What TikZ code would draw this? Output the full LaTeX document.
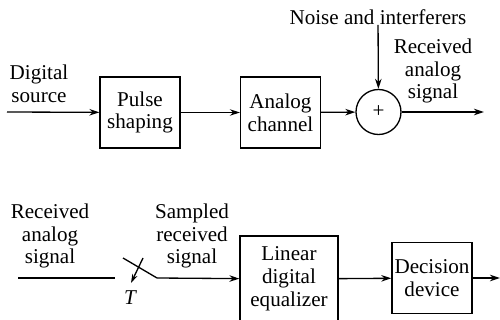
\documentclass[tikz,border=0pt]{standalone}
\usepackage{fontspec}
\setmainfont{Liberation Serif}
\usetikzlibrary{arrows.meta,positioning}

\begin{document}
\begin{tikzpicture}[x=0.02cm,y=-0.02cm,
        blk/.style={draw,line width=0.75pt,minimum width=1.6cm,minimum height=1.42cm,
          align=center,inner sep=1pt,font=\fontsize{12}{13}\selectfont},
        lbl/.style={align=center,inner sep=0pt,font=\fontsize{12}{13}\selectfont},
        sum/.style={draw,circle,line width=0.75pt,minimum size=0.9cm,inner sep=0pt,font=\fontsize{12}{13}\selectfont},
        arr/.style={-{Stealth[length=2mm,width=1.3mm]},line width=0.75pt},
        ln/.style={line width=0.75pt}]
        \useasboundingbox (0,0) rectangle (500,320);
        \clip (0,0) rectangle (500,320);
        % transmitter and channel
        \coordinate (src) at (7,112);
        \node[blk](pulse) at (140,112.5){Pulse\\shaping};
        \node[blk](chan) at (280.5,112.5){Analog\\channel};
        \node[sum](add) at (378.5,112){+};
        \coordinate (rx) at (484,112);
        \node[lbl](noise) at (378,17){Noise and interferers};
        \node[lbl](srclbl) at (39,84){Digital\\source};
        \node[lbl](rxlbl) at (433,71){Received\\analog\\signal};
        \draw[arr](src)--(pulse);\draw[arr](pulse)--(chan);\draw[arr](chan)--(add);\draw[arr](add)--(rx);
        \draw[arr](noise)--(add);
        % sampler, equalizer and decision
        \coordinate (in) at (18,278);
        \coordinate (swa) at (115,278);
        \coordinate (swb) at (123,258);
        \coordinate (swc) at (157,278);
        \coordinate (clka) at (143,258);
        \coordinate (clkb) at (131,283);
        \node[blk,minimum width=1.96cm,minimum height=1.72cm](eq) at (289,279){Linear\\digital\\equalizer};
        \node[blk](dec) at (432,278){Decision\\device};
        \coordinate (out) at (500,278);
        \node[lbl](inlbl) at (50,236){Received\\analog\\signal};
        \node[lbl](smplbl) at (192,236){Sampled\\received\\signal};
        \node[lbl,font=\fontsize{12}{13}\selectfont\itshape](tlbl) at (130,298){T};
        \draw[ln](in)--(swa);\draw[ln](swb)--(swc);
        \draw[-{Stealth[length=1.8mm,width=1.1mm]},line width=0.75pt](clka)--(clkb);
        \draw[arr](swc)--(eq);\draw[arr](eq)--(dec);\draw[arr](dec)--(out);
      \end{tikzpicture}
\end{document}
